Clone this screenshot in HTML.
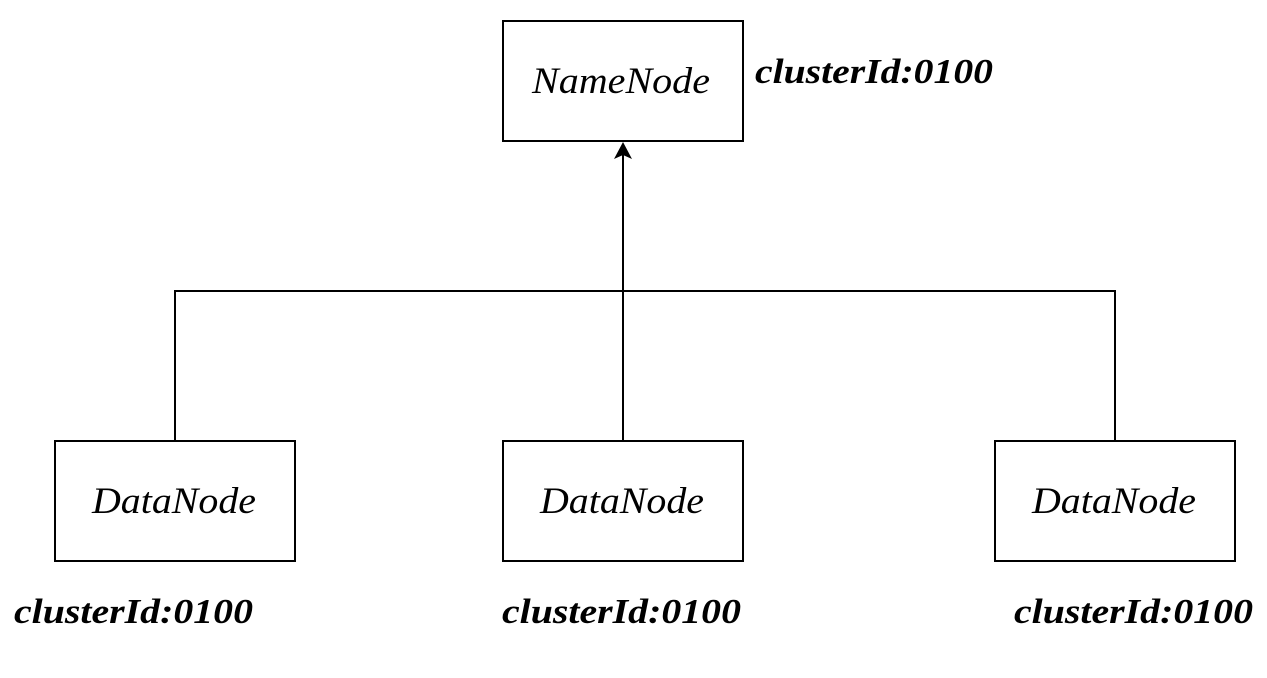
<!DOCTYPE html>
<html><head><meta charset="utf-8"><style>
html,body{margin:0;padding:0;background:#fff;}
svg{display:block;}
</style></head><body>
<svg width="1267" height="678" viewBox="0 0 1267 678" xmlns="http://www.w3.org/2000/svg">
<g fill="none" stroke="#000" stroke-width="2">
<rect x="503" y="21" width="240" height="120"/>
<rect x="55" y="441" width="240" height="120"/>
<rect x="503" y="441" width="240" height="120"/>
<rect x="995" y="441" width="240" height="120"/>
<polyline points="175,441 175,291 1115,291 1115,441"/>
<line x1="623" y1="441" x2="623" y2="152"/>
</g>
<polygon points="623,142 614,159 623,155 632,159" fill="#000"/>
<g font-family="Liberation Serif, serif" font-style="italic" font-size="37" fill="#000" lengthAdjust="spacingAndGlyphs">
<text x="532" y="93" textLength="178" lengthAdjust="spacingAndGlyphs">NameNode</text>
<text x="92" y="513" textLength="164" lengthAdjust="spacingAndGlyphs">DataNode</text>
<text x="540" y="513" textLength="164" lengthAdjust="spacingAndGlyphs">DataNode</text>
<text x="1032" y="513" textLength="164" lengthAdjust="spacingAndGlyphs">DataNode</text>
</g>
<g font-family="Liberation Serif, serif" font-style="italic" font-weight="bold" font-size="35" fill="#000">
<text x="755" y="83" textLength="238" lengthAdjust="spacingAndGlyphs">clusterId:0100</text>
<text x="14" y="623" textLength="239" lengthAdjust="spacingAndGlyphs">clusterId:0100</text>
<text x="502" y="623" textLength="239" lengthAdjust="spacingAndGlyphs">clusterId:0100</text>
<text x="1014" y="623" textLength="239" lengthAdjust="spacingAndGlyphs">clusterId:0100</text>
</g>
</svg>
</body></html>
